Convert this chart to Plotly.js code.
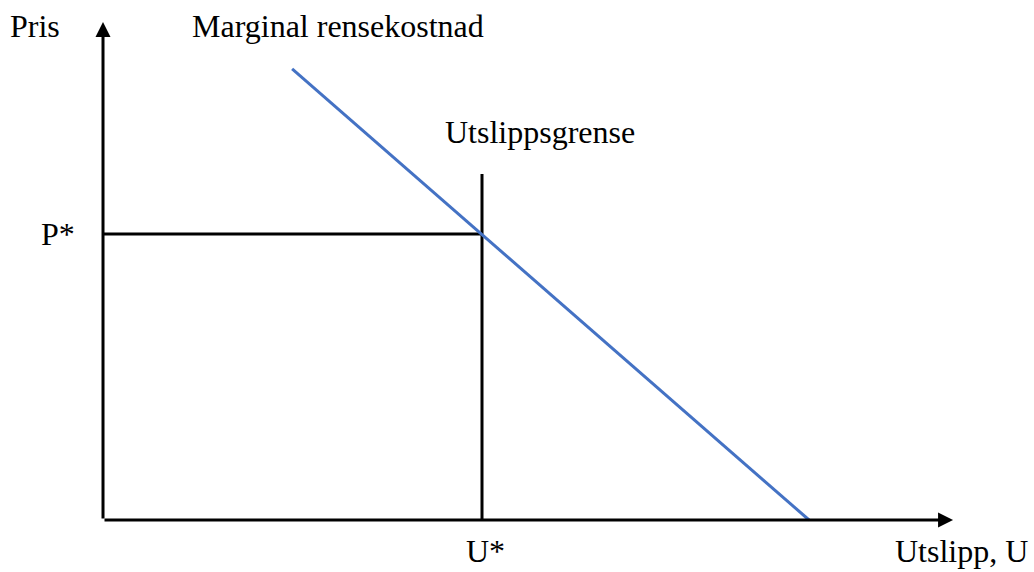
<!DOCTYPE html>
<html>
<head>
<meta charset="utf-8">
<script src="https://cdn.plot.ly/plotly-3.0.1.min.js"></script>
<style>
html,body{margin:0;padding:0;background:#fff;}
#chart{width:1034px;height:572px;}
</style>
</head>
<body>
<div id="chart"></div>
<script>
// Conceptual diagram values (abstract units)
const curveU = [4.99, 18.63];      // marginal abatement cost line, emissions
const curveP = [15.77, 0];         // marginal abatement cost line, price
const uStar = 10;                  // emission limit U*
const pStar = 10;                  // price P*
const limitTop = 12.1;             // top of emission-limit line
const xAxisEnd = 22.43;            // arrow tip of emissions axis
const yAxisEnd = 17.41;            // arrow tip of price axis

const labels = {
  price: "Pris",
  curve: "Marginal rensekostnad",
  limit: "Utslippsgrense",
  pStar: "P*",
  uStar: "U*",
  emissions: "Utslipp, U"
};

const font = {family: "Liberation Serif, Times New Roman, serif", size: 32, color: "#000"};

const traces = [
  {x: [0, uStar], y: [pStar, pStar], mode: "lines", line: {color: "#000", width: 3}, hoverinfo: "skip"},
  {x: [uStar, uStar], y: [0, limitTop], mode: "lines", line: {color: "#000", width: 3}, hoverinfo: "skip"},
  {x: curveU, y: curveP, mode: "lines", line: {color: "#4472C4", width: 3}, hoverinfo: "skip"}
];

const arrowBase = {text: "", showarrow: true, arrowhead: 2, arrowsize: 1, arrowwidth: 3,
  arrowcolor: "#000", axref: "x", ayref: "y", xref: "x", yref: "y", standoff: 0};

const annotations = [
  Object.assign({}, arrowBase, {x: xAxisEnd, y: 0, ax: 0, ay: 0}),
  Object.assign({}, arrowBase, {x: 0, y: yAxisEnd, ax: 0, ay: 0}),
  {text: labels.price, x: -2.51, y: 17.27, xanchor: "left", yanchor: "middle", showarrow: false, font: font},
  {text: labels.curve, x: 2.30, y: 17.27, xanchor: "left", yanchor: "middle", showarrow: false, font: font},
  {text: labels.limit, x: 11.52, y: 13.57, xanchor: "center", yanchor: "middle", showarrow: false, font: font},
  {text: labels.pStar, x: -0.686, y: pStar, xanchor: "right", yanchor: "middle", showarrow: false, font: font},
  {text: labels.uStar, x: 10.1, y: -1.10, xanchor: "center", yanchor: "middle", showarrow: false, font: font},
  {text: labels.emissions, x: 24.45, y: -1.10, xanchor: "right", yanchor: "middle", showarrow: false, font: font}
];

const layout = {
  width: 1034, height: 572,
  margin: {l: 0, r: 0, t: 0, b: 0},
  paper_bgcolor: "#fff", plot_bgcolor: "#fff",
  showlegend: false,
  xaxis: {range: [-2.718, 24.565], visible: false, fixedrange: true},
  yaxis: {range: [-1.818, 18.18], visible: false, fixedrange: true},
  annotations: annotations
};

Plotly.newPlot("chart", traces, layout, {staticPlot: true, displayModeBar: false});
</script>
</body>
</html>
